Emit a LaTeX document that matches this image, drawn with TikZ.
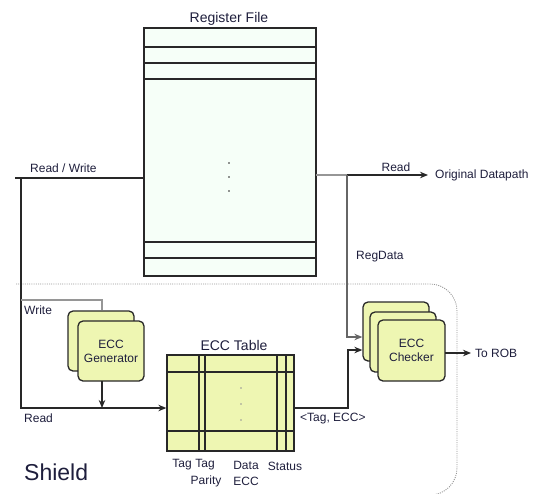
\documentclass[tikz,border=0pt]{standalone}
\usepackage{fontspec}
\setmainfont{Liberation Sans}
\usetikzlibrary{arrows.meta,calc}
\definecolor{rffill}{RGB}{246,255,248}
\definecolor{eccfill}{RGB}{238,246,178}
\definecolor{edge}{RGB}{40,40,40}
\definecolor{txt}{RGB}{30,30,60}
\definecolor{lgray}{RGB}{150,150,150}
\tikzset{
  boxline/.style={draw=edge,line width=1.3pt},
  rfbox/.style={boxline,fill=rffill,rectangle,inner sep=0pt},
  tabbox/.style={boxline,fill=eccfill,rectangle,inner sep=0pt},
  eccbox/.style={boxline,fill=eccfill,rectangle,rounded corners=5pt,inner sep=0pt,align=center,font=\fontsize{12}{14}\selectfont,text=txt},
  wire/.style={draw=edge,line width=1.2pt},
  graywire/.style={draw=lgray,line width=1.3pt},
  arr/.style={-{Stealth[length=8pt,width=6.5pt]}},
  lbl/.style={font=\fontsize{12}{14}\selectfont,text=txt,inner sep=0pt},
  title/.style={font=\fontsize{14}{16}\selectfont,text=txt,inner sep=0pt},
}
\begin{document}
\begin{tikzpicture}[x=1pt,y=-1pt]
\useasboundingbox (0,0) rectangle (543,493);
% shield
\begin{scope}
\clip (0,0) rectangle (543,493);
\draw[lgray,line width=0.9pt,dash pattern=on 1pt off 1.2pt] (16,284) -- (430,284) arc[start angle=-90,end angle=0,radius=27] -- (457,468) arc[start angle=0,end angle=90,radius=27] -- (16,495);
\end{scope}
\node[font=\fontsize{23}{25}\selectfont,text=txt,inner sep=0pt,anchor=west] (shield) at (24,472) {Shield};

% register file
\node[rfbox,minimum width=172pt,minimum height=248pt] (rf) at (230,152) {};
\foreach \yy in {47,63,79,242,258} \draw[boxline] (144,\yy) -- (316,\yy);
\foreach \yy in {163,177,191} \fill[edge] (229,\yy) circle (0.9pt);
\node[title] (rft) at (229,19) {Register File};

% ECC table
\node[tabbox,minimum width=127pt,minimum height=96pt] (tab) at (230.5,403) {};
\foreach \yy in {372,431} \draw[boxline] (167,\yy) -- (294,\yy);
\foreach \xx in {199,205,277,286} \draw[boxline] (\xx,355) -- (\xx,451);
\foreach \yy in {388,404,420} \fill[lgray] (241,\yy) circle (0.9pt);
\node[title] (tabt) at (234,345) {ECC Table};
\node[lbl] (c1) at (182,465) {Tag};
\node[lbl] (c2) at (205,465) {Tag};
\node[lbl] (c3) at (206,481) {Parity};
\node[lbl] (c4) at (246,465) {Data};
\node[lbl] (c5) at (246,481) {ECC};
\node[lbl] (c6) at (285,466) {Status};

% ECC generator
\node[eccbox,minimum width=66pt,minimum height=60pt] (genb) at (101,341) {};
\node[eccbox,minimum width=66pt,minimum height=60pt] (gen) at (111,351) {ECC\\Generator};

% ECC checker
\node[eccbox,minimum width=66pt,minimum height=59pt] (chkb) at (396,331.5) {};
\node[eccbox,minimum width=66pt,minimum height=60pt] (chkm) at (403,342) {};
\node[eccbox,minimum width=67pt,minimum height=61pt] (chk) at (411.5,350.5) {ECC\\Checker};

% left side wiring
\coordinate (rw0) at (15,178);
\coordinate (lv) at (21,178);
\coordinate (lb) at (21,408);
\draw[wire] (rw0) -- (rw0 -| rf.west);
\draw[wire,arr] (lv) -- (lb) -- (lb -| tab.west);
\node[lbl,anchor=west] (rwl) at (30,168) {Read / Write};
\node[lbl,anchor=west] (rdl) at (24,418) {Read};
\coordinate (wr) at (21,300);
\coordinate (gx) at (102,300);
\draw[graywire] (wr) -- (gx) -- (gx |- genb.north);
\node[lbl,anchor=west] (wrl) at (24,310) {Write};
\coordinate (ga) at (102,381);
\draw[wire,arr] (ga) -- (ga |- lb);

% right side wiring
\coordinate (r0) at (316,175);
\coordinate (rb) at (347,175);
\coordinate (od) at (428,175);
\draw[graywire] (r0) -- (rb);
\draw[wire,arr] (rb) -- (od);
\node[lbl] (rdr) at (396,167) {Read};
\node[lbl,anchor=west] (odl) at (435,175) {Original Datapath};
\coordinate (rd1) at (347,337);
\draw[draw=black!60,line width=1.2pt,arr] (rb) -- (rd1) -- (rd1 -| chkb.west);
\node[lbl,anchor=west] (rgl) at (356,257) {RegData};
\coordinate (t0) at (294,408);
\coordinate (t1) at (348,408);
\coordinate (t2) at (348,350);
\draw[wire,arr] (t0) -- (t1) -- (t2) -- (t2 -| chkb.west);
\node[lbl,anchor=west] (tel) at (300,419) {<Tag, ECC>};
\coordinate (c0) at (445,353);
\coordinate (cr) at (471,353);
\draw[wire,arr] (c0) -- (cr);
\node[lbl,anchor=west] (rob) at (475,353) {To ROB};
\end{tikzpicture}
\end{document}
